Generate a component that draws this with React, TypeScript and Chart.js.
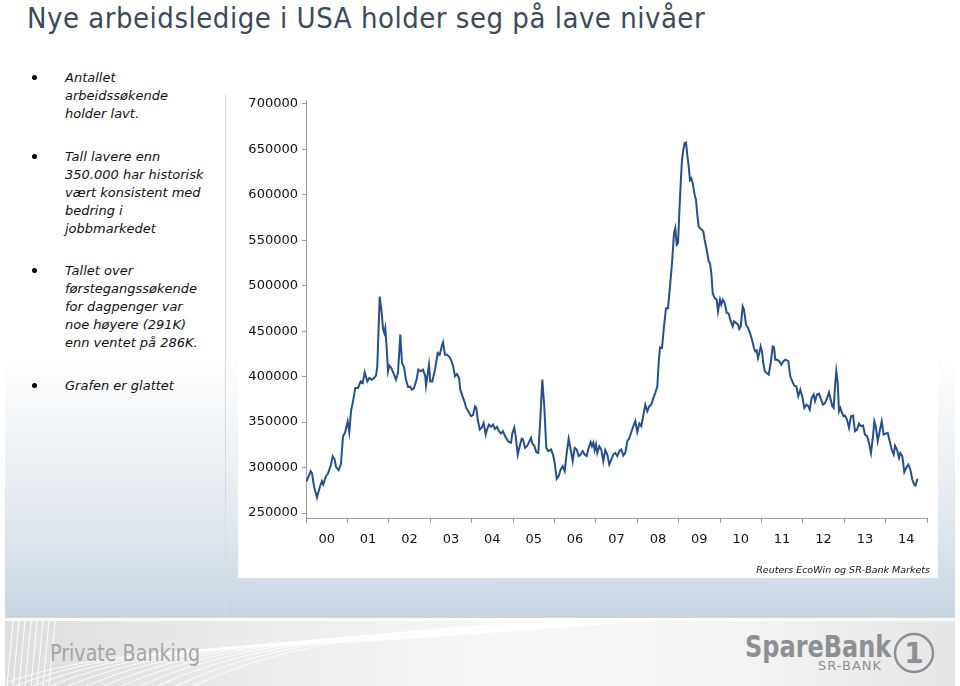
import React, { useEffect, useRef } from "react";
import { Chart, registerables } from "chart.js";

Chart.register(...registerables);

const titleText = "Nye arbeidsledige i USA holder seg på lave nivåer";
const sourceText = "Reuters EcoWin og SR-Bank Markets";

const bullets: string[][] = [
  ["Antallet", "arbeidssøkende", "holder lavt."],
  ["Tall lavere enn", "350.000 har historisk", "vært konsistent med", "bedring i", "jobbmarkedet"],
  ["Tallet over", "førstegangssøkende", "for dagpenger var", "noe høyere (291K)", "enn ventet på 286K."],
  ["Grafen er glattet"],
];

const yearLabels = ["00", "01", "02", "03", "04", "05", "06", "07", "08", "09", "10", "11", "12", "13", "14"];
const yTickValues = [250000, 300000, 350000, 400000, 450000, 500000, 550000, 600000, 650000, 700000];

// Decimal year of each reading (2000.0 = start of 2000)
const claimDates = [
  2000.017, 2000.114, 2000.145, 2000.193, 2000.266, 2000.338, 2000.386, 2000.418, 2000.483, 2000.531,
  2000.604, 2000.645, 2000.693, 2000.725, 2000.790, 2000.845, 2000.894, 2000.942, 2001.007, 2001.046,
  2001.087, 2001.135, 2001.191, 2001.256, 2001.321, 2001.370, 2001.418, 2001.481, 2001.529, 2001.587,
  2001.643, 2001.691, 2001.722, 2001.780, 2001.829, 2001.860, 2001.891, 2001.915, 2001.949, 2001.981,
  2002.012, 2002.060, 2002.109, 2002.174, 2002.222, 2002.278, 2002.319, 2002.367, 2002.415, 2002.464,
  2002.512, 2002.560, 2002.609, 2002.674, 2002.712, 2002.771, 2002.826, 2002.882, 2002.899, 2002.971,
  2003.002, 2003.051, 2003.116, 2003.181, 2003.229, 2003.278, 2003.309, 2003.357, 2003.406, 2003.454,
  2003.502, 2003.551, 2003.599, 2003.647, 2003.696, 2003.727, 2003.775, 2003.824, 2003.872, 2003.920,
  2003.986, 2004.034, 2004.082, 2004.114, 2004.147, 2004.196, 2004.244, 2004.292, 2004.341, 2004.372,
  2004.420, 2004.469, 2004.517, 2004.565, 2004.614, 2004.662, 2004.710, 2004.758, 2004.807, 2004.855,
  2004.903, 2004.952, 2004.983, 2005.031, 2005.065, 2005.114, 2005.162, 2005.210, 2005.242, 2005.290,
  2005.338, 2005.386, 2005.435, 2005.466, 2005.514, 2005.563, 2005.611, 2005.659, 2005.708, 2005.756,
  2005.804, 2005.853, 2005.918, 2005.966, 2006.007, 2006.056, 2006.104, 2006.152, 2006.201, 2006.249,
  2006.297, 2006.345, 2006.394, 2006.442, 2006.490, 2006.539, 2006.587, 2006.635, 2006.684, 2006.732,
  2006.780, 2006.829, 2006.877, 2006.908, 2006.940, 2006.973, 2007.005, 2007.036, 2007.085, 2007.133,
  2007.181, 2007.229, 2007.278, 2007.326, 2007.374, 2007.423, 2007.471, 2007.519, 2007.568, 2007.616,
  2007.664, 2007.713, 2007.761, 2007.809, 2007.857, 2007.906, 2007.954, 2008.002, 2008.051, 2008.099,
  2008.147, 2008.196, 2008.244, 2008.292, 2008.341, 2008.389, 2008.437, 2008.486, 2008.519, 2008.551,
  2008.599, 2008.647, 2008.696, 2008.744, 2008.792, 2008.841, 2008.889, 2008.920, 2008.954, 2008.986,
  2009.017, 2009.051, 2009.082, 2009.114, 2009.147, 2009.179, 2009.210, 2009.244, 2009.275, 2009.307,
  2009.341, 2009.389, 2009.420, 2009.452, 2009.486, 2009.517, 2009.565, 2009.597, 2009.630, 2009.679,
  2009.727, 2009.758, 2009.790, 2009.824, 2009.872, 2009.920, 2009.952, 2010.000, 2010.031, 2010.065,
  2010.114, 2010.162, 2010.210, 2010.258, 2010.307, 2010.338, 2010.386, 2010.435, 2010.466, 2010.500,
  2010.548, 2010.580, 2010.628, 2010.676, 2010.725, 2010.773, 2010.821, 2010.853, 2010.887, 2010.918,
  2010.949, 2010.983, 2011.014, 2011.046, 2011.080, 2011.128, 2011.176, 2011.225, 2011.273, 2011.304,
  2011.336, 2011.384, 2011.432, 2011.481, 2011.529, 2011.577, 2011.650, 2011.698, 2011.746, 2011.795,
  2011.843, 2011.891, 2011.940, 2011.988, 2012.036, 2012.085, 2012.133, 2012.167, 2012.215, 2012.263,
  2012.295, 2012.343, 2012.391, 2012.440, 2012.488, 2012.536, 2012.585, 2012.633, 2012.664, 2012.713,
  2012.746, 2012.778, 2012.809, 2012.843, 2012.874, 2012.906, 2012.940, 2012.988, 2013.019, 2013.068,
  2013.116, 2013.164, 2013.213, 2013.261, 2013.309, 2013.357, 2013.406, 2013.454, 2013.502, 2013.551,
  2013.599, 2013.647, 2013.696, 2013.727, 2013.761, 2013.809, 2013.857, 2013.906, 2013.954, 2014.002,
  2014.051, 2014.099, 2014.147, 2014.196, 2014.227, 2014.275, 2014.324, 2014.355, 2014.403, 2014.452,
  2014.500, 2014.548, 2014.597, 2014.645, 2014.693, 2014.722, 2014.771,
];

// Initial jobless claims (4-week smoothed)
const claims = [
  285000, 296000, 294000, 279500, 267000, 279500, 285000, 281300, 290600, 293400,
  303300, 312400, 308800, 300700, 297000, 304400, 334400, 338200, 350900, 338900,
  361900, 372900, 387600, 387600, 394800, 393100, 404800, 394800, 398600, 396700,
  398600, 401100, 411400, 488200, 470000, 452400, 448000, 453500, 431500, 405900,
  412100, 409600, 404100, 396700, 404100, 446200, 415000, 410700, 396700, 388700,
  389000, 385700, 387600, 397500, 407700, 406000, 407700, 400400, 390100, 413200,
  394800, 394800, 407700, 426000, 424000, 433300, 437800, 424200, 424200, 422400,
  418700, 412100, 400400, 403000, 398600, 385700, 379100, 372900, 365600, 361900,
  356500, 357700, 367500, 365600, 352800, 341800, 344000, 349100, 336300, 341800,
  347300, 344800, 347300, 342500, 344800, 340000, 337400, 340000, 334600, 331000,
  328000, 327400, 337400, 344000, 334600, 314300, 323500, 331700, 331000, 321700,
  323500, 328000, 332800, 326600, 324000, 316800, 316100, 352800, 396700, 366900,
  321700, 318000, 319800, 314300, 305200, 287600, 290600, 297900, 301500, 296000,
  316100, 331700, 319800, 307000, 321700, 319800, 312600, 314300, 318000, 314300,
  312600, 321700, 328000, 323500, 327400, 319200, 325500, 316100, 323500, 319800,
  307000, 319200, 314300, 303300, 308800, 314300, 316100, 312600, 318000, 319800,
  313200, 316100, 328900, 332500, 338900, 345500, 351000, 338900, 348400, 345500,
  357200, 369200, 361900, 367500, 369200, 376500, 382000, 389400, 415000, 432000,
  431500, 455000, 475400, 475400, 499300, 525000, 557900, 563400, 545100, 547000,
  579900, 612900, 638500, 649500, 656800, 657500, 644000, 631100, 616500, 618300,
  612900, 600000, 594500, 578000, 565200, 563400, 561500, 559700, 550500, 539600,
  526700, 525000, 514000, 492000, 486500, 484700, 471900, 484700, 479200, 484700,
  481000, 470000, 469400, 461000, 455300, 461000, 459200, 457400, 452600, 455300,
  477300, 473600, 457400, 453700, 448000, 440700, 431500, 427800, 428900, 420500,
  426000, 433300, 427800, 415000, 405900, 404000, 402200, 415000, 433300, 432600,
  418700, 418700, 416800, 413200, 416800, 418700, 417000, 400400, 394800, 390100,
  389400, 378500, 385700, 378000, 365600, 369200, 367500, 363800, 376700, 380400,
  373100, 380400, 381400, 374700, 369200, 371000, 376500, 382700, 376500, 367500,
  365600, 389400, 405900, 393100, 362000, 365600, 360800, 356500, 357200, 352800,
  343700, 356500, 357200, 340000, 341800, 348400, 345500, 346200, 336300, 334600,
  327100, 316100, 334600, 350900, 345500, 329000, 340000, 350900, 336300, 337400,
  338200, 329000, 319800, 314300, 324000, 319800, 310600, 316100, 312600, 295000,
  299800, 303300, 297900, 286800, 281300, 280200, 287600,
];

function ClaimsChart() {
  const ref = useRef<HTMLCanvasElement | null>(null);
  useEffect(() => {
    if (!ref.current) return;
    const points = claimDates.map((x, i) => ({ x, y: claims[i] }));
    const chart = new Chart(ref.current, {
      type: "line",
      data: {
        datasets: [
          {
            data: points,
            borderColor: "#25508d",
            borderWidth: 2,
            pointRadius: 0,
            tension: 0,
            fill: false,
          },
        ],
      },
      options: {
        animation: false,
        responsive: false,
        maintainAspectRatio: false,
        layout: { padding: { top: 18, right: 11, left: 0, bottom: 0 } },
        plugins: { legend: { display: false }, tooltip: { enabled: false } },
        scales: {
          x: {
            type: "linear",
            min: 2000,
            max: 2015,
            afterBuildTicks: (s: any) => {
              const t: any[] = [];
              for (let i = 0; i <= 15; i++) {
                t.push({ value: 2000 + i });
                if (i < 15) t.push({ value: 2000.5 + i });
              }
              s.ticks = t;
            },
            afterFit: (s: any) => {
              s.height = 64;
            },
            grid: {
              drawOnChartArea: false,
              drawTicks: true,
              tickLength: 5,
              color: (ctx: any) =>
                ctx.tick && Math.abs(ctx.tick.value - Math.round(ctx.tick.value)) < 1e-6
                  ? "#9a9a9a"
                  : "rgba(0,0,0,0)",
            },
            border: { color: "#9a9a9a", width: 1 },
            ticks: {
              autoSkip: false,
              maxRotation: 0,
              minRotation: 0,
              padding: 9,
              color: "#111",
              font: { family: "DejaVu Sans", size: 13 },
              callback: (v: any) => {
                const n = Number(v);
                const f = n - Math.floor(n);
                if (Math.abs(f - 0.5) < 1e-6) return yearLabels[Math.floor(n) - 2000];
                return "";
              },
            },
          },
          y: {
            min: 244500,
            max: 704400,
            afterBuildTicks: (s: any) => {
              s.ticks = yTickValues.map((v) => ({ value: v }));
            },
            afterFit: (s: any) => {
              s.width = 68;
            },
            grid: {
              drawOnChartArea: false,
              drawTicks: true,
              tickLength: 4,
              color: "#9a9a9a",
            },
            border: { color: "#9a9a9a", width: 1 },
            ticks: {
              padding: 4,
              color: "#111",
              font: { family: "DejaVu Sans", size: 13 },
              callback: (v: any) => String(v),
            },
          },
        },
      },
    });
    return () => chart.destroy();
  }, []);
  return (
    <canvas
      ref={ref}
      width={700}
      height={500}
      style={{ position: "absolute", left: 238, top: 82, width: 700, height: 500 }}
    />
  );
}

export default function App() {
  useEffect(() => {
    document.body.style.margin = "0";
  }, []);
  const bulletTops = [69, 148, 262, 377];
  return (
    <div
      style={{
        position: "fixed",
        left: 0,
        top: 0,
        width: 960,
        height: 686,
        background: "#ffffff",
        overflow: "hidden",
        fontFamily: "'DejaVu Sans', sans-serif",
      }}
    >
      {/* title */}
      <div
        style={{
          position: "absolute",
          left: 27,
          top: 0,
          fontSize: 29,
          lineHeight: "36px",
          letterSpacing: 0.5,
          fontFamily: "'DejaVu Sans Condensed', 'DejaVu Sans', sans-serif",
          fontStretch: "condensed",
          color: "#3c4b5b",
          whiteSpace: "nowrap",
        }}
      >
        {titleText}
      </div>

      {/* content panel gradient */}
      <div
        style={{
          position: "absolute",
          left: 5,
          top: 62,
          width: 950,
          height: 556,
          background: "linear-gradient(180deg, #ffffff 0%, #ffffff 52%, #e2e9ef 82%, #c6d4e0 100%)",
        }}
      />
      {/* vertical divider */}
      <div style={{ position: "absolute", left: 225, top: 94, width: 1, height: 521, background: "#d5dbe1" }} />

      {/* bullets */}
      {bullets.map((lines, bi) => (
        <div key={bi}>
          <div
            style={{
              position: "absolute",
              left: 32,
              top: bulletTops[bi] + 6,
              width: 5,
              height: 5,
              borderRadius: 3,
              background: "#000",
            }}
          />
          <div
            style={{
              position: "absolute",
              left: 65,
              top: bulletTops[bi],
              fontSize: 13,
              lineHeight: "18px",
              fontStyle: "italic",
              color: "#111",
              whiteSpace: "nowrap",
            }}
          >
            {lines.map((l, li) => (
              <div key={li}>{l}</div>
            ))}
          </div>
        </div>
      ))}

      {/* chart white box */}
      <div style={{ position: "absolute", left: 238, top: 82, width: 700, height: 496, background: "#ffffff" }} />
      <ClaimsChart />
      <div
        style={{
          position: "absolute",
          right: 960 - 930,
          top: 564,
          fontSize: 9.5,
          fontStyle: "italic",
          color: "#111",
          whiteSpace: "nowrap",
        }}
      >
        {sourceText}
      </div>

      {/* footer */}
      <div
        style={{
          position: "absolute",
          left: 5,
          top: 621,
          width: 950,
          height: 65,
          background: "linear-gradient(90deg, #dddddd 0%, #eeeeee 30%, #f8f8f8 55%, #f3f3f3 80%, #e6e6e6 100%)",
          overflow: "hidden",
        }}
      >
        <svg width={950} height={65} style={{ position: "absolute", left: 0, top: 0 }}>
          {[0, 1, 2, 3, 4, 5, 6, 7, 8, 9, 10, 11].map((i) => (
            <path
              key={i}
              d={`M ${-20 + i * 18} 70 C ${120 + i * 20} ${10 - i * 2}, ${300 + i * 25} ${40 - i * 3}, ${620 + i * 10} ${-5}`}
              stroke="#ffffff"
              strokeWidth={1}
              fill="none"
              opacity={0.9}
            />
          ))}
          {[0, 1, 2, 3, 4, 5, 6, 7].map((i) => (
            <line key={"v" + i} x1={8 + i * 6} y1={0} x2={2 + i * 6} y2={65} stroke="#ffffff" strokeWidth={1} />
          ))}
        </svg>
        <div
          style={{
            position: "absolute",
            left: 45,
            top: 19,
            fontSize: 23,
            fontFamily: "'DejaVu Sans', sans-serif",
            color: "#a3a5a8",
            whiteSpace: "nowrap",
            transform: "scaleX(0.83)",
            transformOrigin: "left top",
          }}
        >
          Private Banking
        </div>
        <div
          style={{
            position: "absolute",
            left: 740,
            top: 8,
            fontSize: 30,
            fontWeight: "bold",
            fontFamily: "'DejaVu Sans', sans-serif",
            color: "#8d9093",
            whiteSpace: "nowrap",
            transform: "scaleX(0.8)",
            transformOrigin: "left top",
          }}
        >
          SpareBank
        </div>
        <div
          style={{
            position: "absolute",
            left: 813,
            top: 37,
            fontSize: 13,
            letterSpacing: 1,
            fontFamily: "'DejaVu Sans', sans-serif",
            color: "#8d9093",
            whiteSpace: "nowrap",
          }}
        >
          SR-BANK
        </div>
        <svg width={46} height={46} style={{ position: "absolute", left: 886, top: 9 }}>
          <circle cx={23} cy={23} r={19} stroke="#8d9093" strokeWidth={2.5} fill="none" />
          <text x={23} y={33} textAnchor="middle" fontSize={28} fontWeight="bold" fill="#8d9093" fontFamily="DejaVu Sans">
            1
          </text>
        </svg>
      </div>
    </div>
  );
}
